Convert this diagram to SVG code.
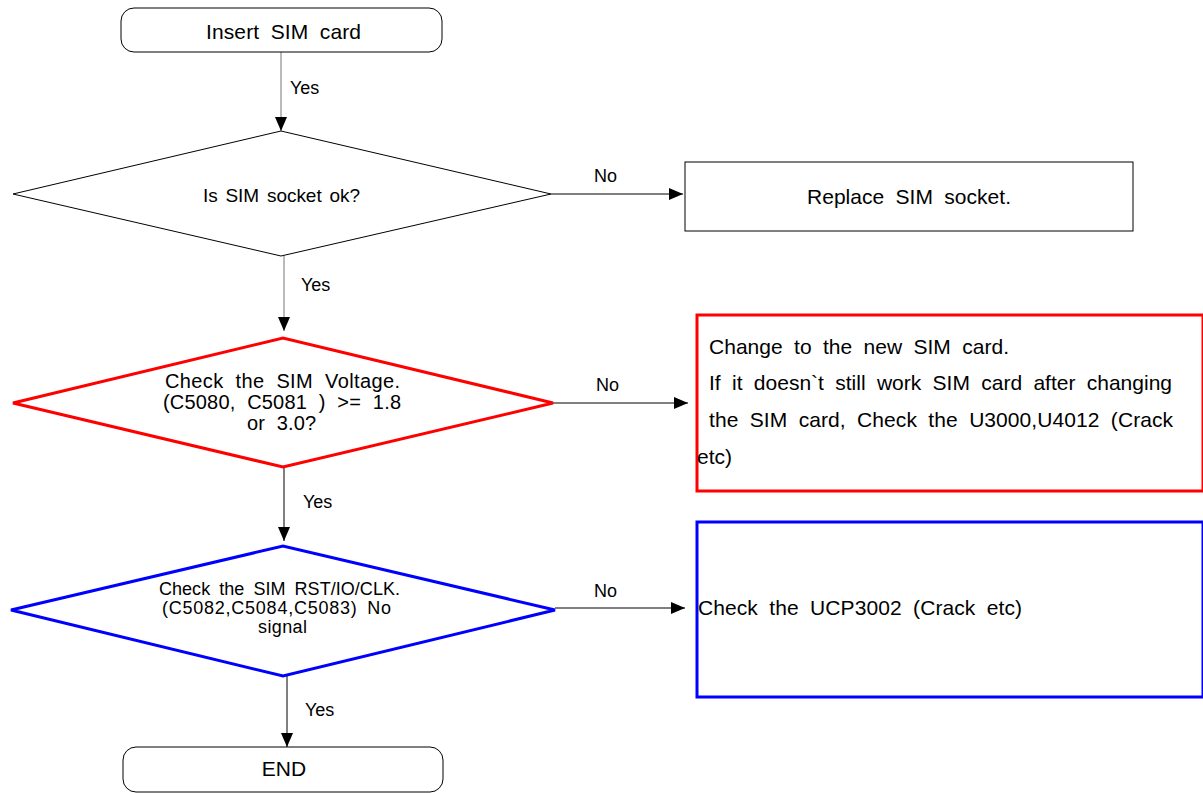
<svg xmlns="http://www.w3.org/2000/svg" width="1203" height="793" viewBox="0 0 1203 793">
<style>
text{font-family:"Liberation Sans",Arial,sans-serif;fill:#000}
.t21{font-size:21px;word-spacing:5.5px}
.t20{font-size:20px;word-spacing:6px}
.t19{font-size:19px;word-spacing:2.5px}
.t18{font-size:18px;word-spacing:4px}
.lbl{font-size:18px}
.c{stroke:#000;stroke-width:1;fill:none}
.thin{fill:#fff;stroke:#000;stroke-width:1}
</style>
<defs>
<marker id="ah" viewBox="0 0 14 12" refX="14" refY="6" markerWidth="14" markerHeight="12" markerUnits="userSpaceOnUse" orient="auto">
<path d="M0,0 L14,6 L0,12 Z" fill="#000"/>
</marker>
</defs>
<rect width="1203" height="793" fill="#fff"/>
<g id="connectors">
<line class="c" x1="281" y1="52" x2="281" y2="131" marker-end="url(#ah)" style="stroke:#777"/>
<text class="lbl" x="290" y="94">Yes</text>
<line class="c" x1="551" y1="194" x2="683" y2="194" marker-end="url(#ah)"/>
<text class="lbl" x="594" y="182">No</text>
<line class="c" x1="284" y1="256" x2="284" y2="331" marker-end="url(#ah)" style="stroke:#777"/>
<text class="lbl" x="301" y="291">Yes</text>
<line class="c" x1="553" y1="403" x2="688" y2="403" marker-end="url(#ah)"/>
<text class="lbl" x="596" y="391">No</text>
<line class="c" x1="284" y1="467" x2="284" y2="541" marker-end="url(#ah)"/>
<text class="lbl" x="303" y="508">Yes</text>
<line class="c" x1="555" y1="608" x2="685" y2="608" marker-end="url(#ah)"/>
<text class="lbl" x="594" y="597">No</text>
<line class="c" x1="287" y1="676" x2="287" y2="747" marker-end="url(#ah)"/>
<text class="lbl" x="305" y="716">Yes</text>
</g>
<g id="start">
<rect class="thin" x="121" y="8" width="321" height="44" rx="13"/>
<text class="t21" x="206" y="39" textLength="155" lengthAdjust="spacing">Insert SIM card</text>
</g>
<g id="d1">
<polygon class="thin" points="13,194 281,131 551,194 281,256"/>
<text class="t19" x="203" y="202" textLength="157" lengthAdjust="spacing">Is SIM socket ok?</text>
</g>
<g id="replace">
<rect class="thin" x="685" y="162" width="448" height="69"/>
<text class="t21" x="807" y="204" textLength="204" lengthAdjust="spacing">Replace SIM socket.</text>
</g>
<g id="d2">
<polygon points="13,403 283,338 553,403 283,467" fill="#fff" stroke="#f00" stroke-width="3"/>
<text class="t20" x="165" y="388" textLength="235" lengthAdjust="spacing">Check the SIM Voltage.</text>
<text class="t20" x="163" y="409" textLength="238" lengthAdjust="spacing">(C5080, C5081 ) &gt;= 1.8</text>
<text class="t20" x="247" y="430" textLength="69" lengthAdjust="spacing">or 3.0?</text>
</g>
<g id="change">
<rect x="697" y="315" width="506" height="176" fill="#fff" stroke="#f00" stroke-width="3"/>
<text class="t21" x="709" y="354" textLength="300" lengthAdjust="spacing">Change to the new SIM card.</text>
<text class="t21" x="709" y="390" textLength="463" lengthAdjust="spacing">If it doesn`t still work SIM card after changing</text>
<text class="t21" x="709" y="427" textLength="464" lengthAdjust="spacing">the SIM card, Check the U3000,U4012 (Crack</text>
<text class="t21" x="697" y="464">etc)</text>
</g>
<g id="d3">
<polygon points="11,610 283,546 555,610 283,676" fill="#fff" stroke="#00f" stroke-width="3"/>
<text class="t18" x="159" y="595" textLength="241" lengthAdjust="spacing">Check the SIM RST/IO/CLK.</text>
<text class="t18" x="162" y="614" textLength="229" lengthAdjust="spacing">(C5082,C5084,C5083) No</text>
<text class="t18" x="258" y="633" textLength="49" lengthAdjust="spacing">signal</text>
</g>
<g id="ucp">
<rect x="697" y="522" width="506" height="175" fill="#fff" stroke="#00f" stroke-width="3"/>
<text class="t21" x="698" y="615" textLength="324" lengthAdjust="spacing">Check the UCP3002 (Crack etc)</text>
</g>
<g id="end">
<rect class="thin" x="123" y="747" width="320" height="45" rx="13"/>
<text class="t21" x="284" y="776" text-anchor="middle">END</text>
</g>
</svg>
